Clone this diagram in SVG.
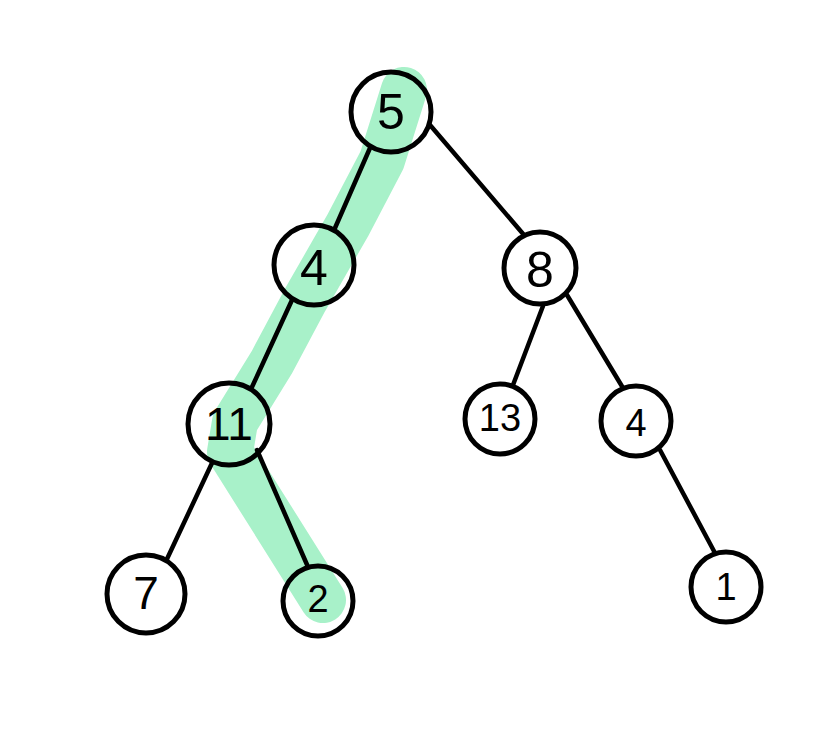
<svg xmlns="http://www.w3.org/2000/svg" width="838" height="742" viewBox="0 0 838 742">
<style>
.hl{fill:none;stroke:#a8f1c9;stroke-width:46;stroke-linecap:round;stroke-linejoin:round}
.edge{stroke:#000;stroke-width:4.5;stroke-linecap:round;fill:none}
.node circle{fill:none;stroke:#000;stroke-width:5}
.node text{font-family:"Liberation Sans",Arial,sans-serif;font-size:50px;text-anchor:middle;dominant-baseline:central;fill:#000}
.node text.m{font-size:46px}
.node text.s{font-size:38px}
</style>
<rect width="838" height="742" fill="#fff"/>
<path class="hl" d="M 404 90 L 382 160 L 348 225 L 305 300 L 272 362 L 235 422 L 230 452 L 323 600"/>
<g id="connectors">
<line class="edge" x1="370" y1="148" x2="335" y2="228"/>
<line class="edge" x1="430" y1="125" x2="524" y2="235"/>
<line class="edge" x1="292" y1="300" x2="252" y2="387"/>
<line class="edge" x1="212" y1="463" x2="167" y2="559"/>
<line class="edge" x1="257" y1="450" x2="308" y2="567"/>
<line class="edge" x1="543" y1="306" x2="513" y2="385"/>
<line class="edge" x1="567" y1="295" x2="623" y2="388"/>
<line class="edge" x1="660" y1="450" x2="715" y2="553"/>
</g>
<g id="n5" class="node"><circle cx="391" cy="112" r="40"/><text x="391" y="112">5</text></g>
<g id="n4a" class="node"><circle cx="314" cy="265" r="40"/><text x="314" y="268">4</text></g>
<g id="n8" class="node"><circle cx="540" cy="268" r="36"/><text x="540" y="270">8</text></g>
<g id="n11" class="node"><circle cx="229" cy="424" r="41"/><text class="m" x="229" y="424">11</text></g>
<g id="n13" class="node"><circle cx="500" cy="419" r="35"/><text class="s" x="500" y="418">13</text></g>
<g id="n4b" class="node"><circle cx="636" cy="421" r="35"/><text class="s" x="636" y="423">4</text></g>
<g id="n7" class="node"><circle cx="146" cy="594" r="39"/><text class="m" x="146" y="593">7</text></g>
<g id="n2" class="node"><circle cx="318" cy="601" r="35"/><text class="s" x="318" y="599">2</text></g>
<g id="n1" class="node"><circle cx="726" cy="587" r="35"/><text class="s" x="726" y="587">1</text></g>
</svg>
